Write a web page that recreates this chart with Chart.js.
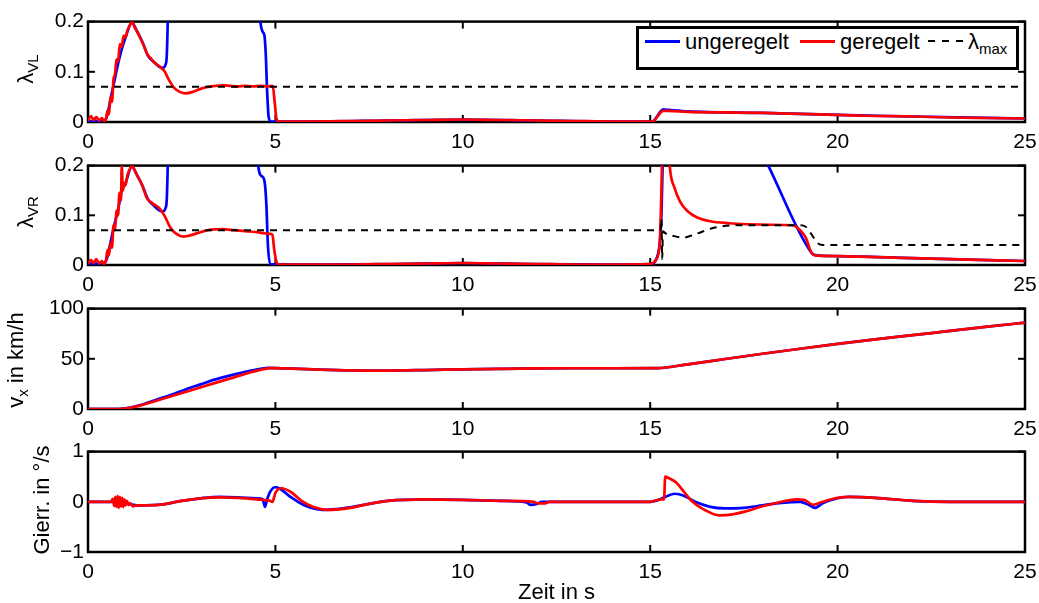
<!DOCTYPE html>
<html>
<head>
<meta charset="utf-8">
<script src="https://cdn.jsdelivr.net/npm/chart.js@4.4.1/dist/chart.umd.min.js"></script>
<style>
  body { margin: 0; background: #fff; overflow: hidden; }
  #wrap { position: relative; width: 1039px; height: 603px; overflow: hidden;
          font-family: 'Liberation Sans', Arial, sans-serif; color: #000; }
  canvas { position: absolute; left: 0; }
  .ylab { position: absolute; transform: translate(-50%, -50%) rotate(-90deg);
          white-space: nowrap; font-size: 22px; line-height: 1; }
  .ylab sub, #legend sub { font-size: 15px; line-height: 0; vertical-align: -5px; }
  #legend { position: absolute; left: 636px; top: 26px; width: 383px; height: 44px;
            box-sizing: border-box; border: 3px solid #000; background: #fff; z-index: 5; }
  #legend .ltext { position: absolute; top: 2px; font-size: 22px; line-height: 22px; white-space: nowrap; }
  #legend .lline { position: absolute; top: 11px; width: 35px; height: 0; border-top: 3px solid; }
  #legend .ldash { position: absolute; top: 11px; width: 35px; height: 2px;
                   background: repeating-linear-gradient(90deg, #000 0 7px, transparent 7px 14px); }
</style>
</head>
<body>
<div id="wrap">
  <canvas id="c0"></canvas>
  <canvas id="c1"></canvas>
  <canvas id="c2"></canvas>
  <canvas id="c3"></canvas>
  <div class="ylab" style="left:26px;top:69px">&lambda;<sub>VL</sub></div>
  <div class="ylab" style="left:26px;top:212px">&lambda;<sub>VR</sub></div>
  <div class="ylab" style="left:16px;top:360px">v<sub>x</sub> in km/h</div>
  <div class="ylab" style="left:42px;top:500px">Gierr. in °/s</div>
  <div id="legend">
    <span class="lline" style="left:6px;border-color:#0000ff"></span>
    <span class="ltext" style="left:46px">ungeregelt</span>
    <span class="lline" style="left:161px;border-color:#ff0000"></span>
    <span class="ltext" style="left:201px">geregelt</span>
    <span class="ldash" style="left:289px"></span>
    <span class="ltext" style="left:329px">&lambda;<sub>max</sub></span>
  </div>
</div>
<script>
// time axis in s
const xTicks = [0, 5, 10, 15, 20, 25];
const yTicksLambda = [0, 0.1, 0.2];
const yTicksV = [0, 50, 100];
const yTicksGier = [-1, 0, 1];

// --- lambda VL (Schlupf vorne links) ---
const tVL_ger = [0, 0.08, 0.15, 0.22, 0.3, 0.37, 0.43, 0.48, 0.52, 0.56, 0.6, 0.64, 0.68, 0.72, 0.76, 0.8, 0.85, 0.9, 0.95, 1.0, 1.05, 1.1, 1.17, 1.25, 1.33, 1.42, 1.5, 1.58, 1.66, 1.75, 1.85, 1.95, 2.05, 2.15, 2.3, 2.45, 2.6, 2.8, 3.0, 3.2, 3.4, 3.6, 3.8, 4.0, 4.2, 4.4, 4.6, 4.8, 4.93, 4.98, 5.03, 5.1, 6, 7, 8, 9, 10, 11, 12, 13, 14, 15.05, 15.35, 15.5, 16, 17, 18, 19, 20, 21, 22, 23, 24, 25];
const vVL_ger = [0.002, 0.012, 0.004, 0.01, 0.003, 0.008, 0.002, 0.006, 0.022, 0.015, 0.05, 0.04, 0.085, 0.095, 0.125, 0.12, 0.155, 0.15, 0.172, 0.168, 0.182, 0.19, 0.2, 0.188, 0.177, 0.163, 0.15, 0.135, 0.128, 0.12, 0.114, 0.108, 0.1, 0.085, 0.068, 0.06, 0.057, 0.06, 0.066, 0.07, 0.072, 0.073, 0.072, 0.071, 0.072, 0.071, 0.072, 0.071, 0.072, 0.04, 0.006, 0.001, 0.001, 0.002, 0.003, 0.004, 0.005, 0.004, 0.003, 0.002, 0.001, 0.001, 0.022, 0.022, 0.02, 0.019, 0.018, 0.016, 0.014, 0.012, 0.011, 0.009, 0.008, 0.007];
const tVL_unger = [0, 0.43, 0.5, 0.6, 0.7, 0.8, 0.9, 1.0, 1.17, 1.3, 1.45, 1.6, 1.75, 1.9, 2.0, 2.07, 2.1, 2.14, 2.2, 4.5, 4.6, 4.7, 4.74, 4.78, 4.82, 4.88, 6, 8, 10, 12, 14, 15.05, 15.35, 15.5, 16, 18, 20, 22, 25];
const vVL_unger = [0.002, 0.003, 0.01, 0.045, 0.08, 0.115, 0.145, 0.168, 0.198, 0.182, 0.16, 0.132, 0.12, 0.11, 0.108, 0.115, 0.13, 0.25, 0.6, 0.6, 0.2, 0.175, 0.14, 0.06, 0.01, 0.001, 0.001, 0.003, 0.005, 0.003, 0.001, 0.001, 0.025, 0.024, 0.021, 0.018, 0.014, 0.011, 0.007];
const tVL_max = [0, 25];
const vVL_max = [0.07, 0.07];

// --- lambda VR (Schlupf vorne rechts) ---
const tVR_ger = [0, 0.08, 0.15, 0.22, 0.3, 0.37, 0.43, 0.48, 0.52, 0.56, 0.6, 0.64, 0.68, 0.72, 0.76, 0.8, 0.84, 0.88, 0.9, 0.93, 0.97, 1.0, 1.05, 1.1, 1.17, 1.25, 1.35, 1.45, 1.57, 1.7, 1.8, 1.92, 2.05, 2.2, 2.35, 2.55, 2.75, 3.0, 3.3, 3.6, 3.9, 4.2, 4.5, 4.8, 4.92, 4.97, 5.04, 5.1, 6, 7, 8, 9, 10, 11, 12, 13, 14, 15.0, 15.15, 15.25, 15.3, 15.34, 15.45, 15.52, 15.65, 15.8, 16.0, 16.24, 16.6, 17.1, 17.6, 18.2, 18.8, 19.0, 19.15, 19.3, 19.38, 20, 21, 22, 23, 24, 25];
const vVR_ger = [0.003, 0.01, 0.004, 0.012, 0.003, 0.008, 0.002, 0.01, 0.03, 0.02, 0.045, 0.035, 0.08, 0.07, 0.11, 0.1, 0.145, 0.13, 0.2, 0.15, 0.165, 0.16, 0.18, 0.19, 0.2, 0.19, 0.175, 0.16, 0.135, 0.125, 0.12, 0.113, 0.098, 0.075, 0.063, 0.057, 0.06, 0.066, 0.071, 0.072, 0.07, 0.068, 0.066, 0.063, 0.061, 0.03, 0.004, 0.001, 0.001, 0.001, 0.002, 0.003, 0.004, 0.003, 0.002, 0.001, 0.001, 0.002, 0.01, 0.04, 0.15, 0.3, 0.3, 0.2, 0.155, 0.127, 0.108, 0.096, 0.088, 0.084, 0.082, 0.081, 0.08, 0.07, 0.055, 0.025, 0.02, 0.018, 0.016, 0.014, 0.012, 0.01, 0.008];
const tVR_unger = [0, 0.43, 0.5, 0.6, 0.7, 0.8, 0.9, 1.0, 1.17, 1.3, 1.45, 1.6, 1.75, 1.9, 2.0, 2.07, 2.1, 2.14, 2.2, 4.45, 4.54, 4.65, 4.72, 4.76, 4.8, 4.86, 6, 8, 10, 12, 14, 15.0, 15.2, 15.3, 15.36, 15.45, 17.0, 18.15, 19.3, 19.4, 20, 22, 25];
const vVR_unger = [0.003, 0.004, 0.012, 0.045, 0.08, 0.11, 0.15, 0.165, 0.198, 0.182, 0.16, 0.132, 0.12, 0.11, 0.108, 0.115, 0.13, 0.25, 0.6, 0.6, 0.2, 0.178, 0.163, 0.12, 0.04, 0.002, 0.001, 0.002, 0.004, 0.002, 0.001, 0.002, 0.02, 0.1, 0.3, 0.6, 0.375, 0.2, 0.025, 0.02, 0.018, 0.014, 0.008];
const tVR_max = [0, 15.28, 15.3, 15.32, 15.34, 15.4, 15.6, 15.87, 16.2, 16.7, 17.3, 18.5, 19.0, 19.15, 19.3, 19.45, 19.6, 25];
const vVR_max = [0.07, 0.07, 0.093, 0.012, 0.068, 0.064, 0.059, 0.055, 0.062, 0.075, 0.08, 0.08, 0.08, 0.077, 0.062, 0.045, 0.04, 0.04];

// --- vx in km/h ---
const tV_ger = [0, 0.8, 1.0, 1.4, 1.8, 2.2, 2.6, 3.0, 3.4, 3.8, 4.2, 4.6, 4.9, 5.2, 6, 7, 8, 9, 10, 11, 12, 13, 14, 15.2, 16, 17, 18, 19, 20, 21, 22, 23, 24, 25];
const vV_ger = [0, 0, 0.5, 3.5, 8, 12.5, 17, 21.5, 26, 30.5, 35, 39, 40.7, 40.5, 39.5, 38.5, 38.3, 38.8, 39.5, 40, 40.4, 40.6, 40.6, 40.7, 44.5, 49.8, 55, 60, 64.8, 69.3, 73.5, 77.8, 82, 86];
const tV_unger = [0, 0.8, 1.0, 1.4, 1.8, 2.2, 2.6, 3.0, 3.4, 3.8, 4.2, 4.6, 4.8, 5.2, 6, 7, 8, 9, 10, 11, 12, 13, 14, 15.2, 16, 17, 18, 19, 20, 21, 22, 23, 24, 25];
const vV_unger = [0, 0, 0.6, 4, 9, 14, 19.5, 24.5, 29.5, 33.5, 37, 40, 41, 40.5, 39.5, 38.5, 38.3, 38.8, 39.5, 40, 40.4, 40.6, 40.6, 40.7, 44.5, 49.8, 55, 60, 64.8, 69.3, 73.5, 77.8, 82, 86];

// --- Gierrate in deg/s ---
const tG_ger = [0, 0.62, 0.66, 0.7, 0.73, 0.76, 0.79, 0.82, 0.85, 0.88, 0.91, 0.94, 0.97, 1.0, 1.04, 1.08, 1.13, 1.2, 1.3, 1.6, 2.0, 2.5, 3.0, 3.5, 4.0, 4.5, 4.85, 4.92, 5.0, 5.17, 5.4, 5.7, 6.0, 6.4, 7.0, 7.5, 8.0, 9.0, 10, 11, 11.9, 12.0, 12.2, 12.3, 13, 15.0, 15.15, 15.3, 15.37, 15.4, 15.5, 15.7, 15.9, 16.1, 16.4, 16.85, 17.2, 17.5, 18.0, 18.5, 18.9, 19.1, 19.35, 19.6, 20.0, 20.3, 21, 22, 23, 25];
const vG_ger = [0, 0, 0.06, -0.08, 0.1, -0.1, 0.12, -0.12, 0.1, -0.09, 0.08, -0.1, 0.05, -0.07, 0.02, -0.06, -0.03, -0.09, -0.07, -0.07, -0.05, 0.02, 0.07, 0.09, 0.08, 0.05, 0.02, 0, 0.18, 0.27, 0.2, 0.02, -0.1, -0.16, -0.12, -0.04, 0.02, 0.05, 0.04, 0.02, 0, -0.03, -0.03, 0, 0, 0, 0.03, 0.05, 0.05, 0.5, 0.47, 0.38, 0.2, 0.02, -0.14, -0.27, -0.25, -0.2, -0.09, 0, 0.05, 0.04, -0.06, 0, 0.08, 0.1, 0.08, 0.02, 0, 0];
const tG_unger = [0, 0.7, 1.0, 1.3, 2.0, 2.5, 3.0, 3.5, 4.0, 4.5, 4.66, 4.72, 4.78, 4.86, 4.99, 5.1, 5.4, 5.8, 6.25, 6.8, 7.5, 8.0, 9.0, 10, 11, 11.7, 11.8, 11.95, 12.1, 13, 15.0, 15.2, 15.35, 15.66, 15.9, 16.2, 16.6, 17.0, 17.5, 18.0, 18.5, 19.0, 19.2, 19.4, 19.6, 20.0, 20.3, 21, 22, 23, 25];
const vG_unger = [0, 0, -0.03, -0.07, -0.05, 0.02, 0.07, 0.1, 0.09, 0.07, 0.05, -0.1, 0.05, 0.2, 0.29, 0.27, 0.1, -0.08, -0.16, -0.13, -0.04, 0.02, 0.05, 0.04, 0.02, -0.01, -0.06, -0.05, 0, 0, 0, 0.03, 0.08, 0.16, 0.12, 0, -0.1, -0.13, -0.12, -0.07, -0.02, 0, -0.05, -0.12, -0.03, 0.07, 0.1, 0.08, 0.02, 0, 0];

// subplot placement (px)
const panelTop = [19, 163, 306, 449];
const panelH = [103, 102, 103, 103];

Chart.defaults.font.family = "'Liberation Sans', Arial, sans-serif";
Chart.defaults.font.size = 21;
Chart.defaults.color = '#000';

const zip = (t, v) => t.map((x, i) => ({ x, y: v[i] }));

function series(label, t, v, color, dashed, order) {
  return {
    label,
    data: zip(t, v),
    borderColor: color,
    borderWidth: dashed ? 2 : 2.7,
    borderDash: dashed ? [7, 6] : [],
    cubicInterpolationMode: 'monotone',
    pointRadius: 0,
    order
  };
}

// matlab style box with inward ticks, drawn below the data
const frame = {
  id: 'frame',
  beforeDatasetsDraw(chart) {
    const { ctx, chartArea: a, scales: { x, y } } = chart;
    const tick = (x1, y1, x2, y2) => { ctx.beginPath(); ctx.moveTo(x1, y1); ctx.lineTo(x2, y2); ctx.stroke(); };
    ctx.save();
    ctx.strokeStyle = '#000';
    ctx.lineWidth = 2;
    x.ticks.forEach(t => {
      const px = x.getPixelForValue(t.value);
      tick(px, a.bottom, px, a.bottom - 7);
      tick(px, a.top, px, a.top + 7);
    });
    y.ticks.forEach(t => {
      const py = y.getPixelForValue(t.value);
      tick(a.left, py, a.left + 7, py);
      tick(a.right, py, a.right - 7, py);
    });
    ctx.lineWidth = 2.5;
    ctx.strokeRect(a.left, a.top, a.width, a.height);
    ctx.restore();
  }
};

function makeChart(i, datasets, yTicks, last) {
  const pad = 14;
  const axisH = last ? 54 : 34;
  const cv = document.getElementById('c' + i);
  cv.width = 1039;
  cv.height = pad + panelH[i] + axisH;
  cv.style.top = (panelTop[i] - pad) + 'px';
  return new Chart(cv, {
    type: 'line',
    data: { datasets },
    options: {
      responsive: false,
      animation: false,
      events: [],
      layout: { padding: { top: pad, right: 14, left: 0, bottom: 0 } },
      plugins: { legend: { display: false }, tooltip: { enabled: false } },
      scales: {
        x: {
          type: 'linear', min: 0, max: 25,
          afterBuildTicks: s => { s.ticks = xTicks.map(v => ({ value: v })); },
          afterFit: s => { s.height = axisH; s.paddingLeft = 0; s.paddingRight = 0; },
          grid: { display: false, drawTicks: false },
          border: { display: false },
          ticks: { padding: 8, maxRotation: 0, autoSkip: false },
          title: { display: last, text: 'Zeit in s', font: { size: 22 }, padding: 0 }
        },
        y: {
          type: 'linear', min: yTicks[0], max: yTicks[yTicks.length - 1],
          afterBuildTicks: s => { s.ticks = yTicks.map(v => ({ value: v })); },
          afterFit: s => { s.width = 88; },
          grid: { display: false, drawTicks: false },
          border: { display: false },
          ticks: { padding: 4, callback: v => String(v).replace('-', '\u2212') }
        }
      }
    },
    plugins: [frame]
  });
}

const BLUE = '#0000ff', RED = '#ff0000', BLACK = '#000000';

makeChart(0, [
  series('ungeregelt', tVL_unger, vVL_unger, BLUE, false, 3),
  series('geregelt', tVL_ger, vVL_ger, RED, false, 2),
  series('λmax', tVL_max, vVL_max, BLACK, true, 1)
], yTicksLambda, false);

makeChart(1, [
  series('ungeregelt', tVR_unger, vVR_unger, BLUE, false, 3),
  series('geregelt', tVR_ger, vVR_ger, RED, false, 2),
  series('λmax', tVR_max, vVR_max, BLACK, true, 1)
], yTicksLambda, false);

makeChart(2, [
  series('ungeregelt', tV_unger, vV_unger, BLUE, false, 3),
  series('geregelt', tV_ger, vV_ger, RED, false, 2)
], yTicksV, false);

makeChart(3, [
  series('ungeregelt', tG_unger, vG_unger, BLUE, false, 3),
  series('geregelt', tG_ger, vG_ger, RED, false, 2)
], yTicksGier, true);
</script>
</body>
</html>
